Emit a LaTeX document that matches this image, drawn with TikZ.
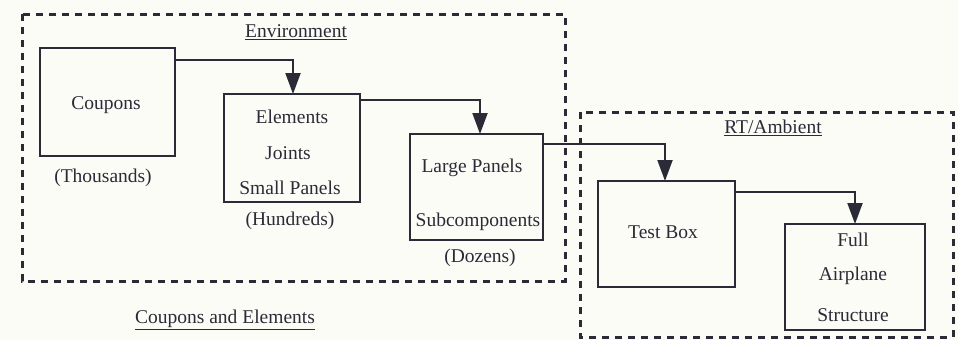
\documentclass[tikz,border=0pt]{standalone}
\usepackage{fontspec}
\setmainfont{Liberation Serif}
\usetikzlibrary{arrows.meta}
\definecolor{ink}{HTML}{2B2B38}
\definecolor{paper}{HTML}{FCFCF7}
\begin{document}
\begin{tikzpicture}[x=1pt,y=-1pt,
  every node/.style={text=ink, font=\fontsize{19.5}{22}\selectfont},
  blockbox/.style={draw=ink, line width=2.8pt},
  zone/.style={draw=ink, line width=3pt, dash pattern=on 7pt off 6pt},
  flow/.style={draw=ink, line width=2pt, -{Triangle[width=15pt,length=21pt]}},
  caption/.style={inner sep=0pt}]
  % page
  \fill[paper] (0,0) rectangle (958,340);
  \useasboundingbox (0,0) rectangle (958,340);

  % test environment zones
  \draw[zone] (22,14) rectangle (565,281);
  \draw[zone] (580,112) rectangle (953,337);
  \node[caption] (env) at (296,32) {\underline{Environment}};
  \node[caption] (rt) at (773,128) {\underline{RT/Ambient}};
  \node[caption] (ce) at (225,320) {\underline{Coupons and Elements}};

  % building blocks
  \draw[blockbox] (40,48) rectangle (175,156);
  \coordinate (cpR) at (175,60);
  \node (cp) at (106,105) {Coupons};
  \node (cpN) at (103,178) {(Thousands)};

  \draw[blockbox] (224,94) rectangle (360,202);
  \coordinate (elT) at (293,94);
  \coordinate (elR) at (360,100);
  \node (el1) at (292,117) {Elements};
  \node (el2) at (288,153) {Joints};
  \node (el3) at (290,188) {Small Panels};
  \node (elN) at (290,221) {(Hundreds)};

  \draw[blockbox] (410,134) rectangle (543,240);
  \coordinate (lpT) at (480,134);
  \coordinate (lpR) at (543,144);
  \node (lp1) at (472,168) {Large Panels};
  \node (lp2) at (478,222) {Subcomponents};
  \node (lpN) at (480,258) {(Dozens)};

  \draw[blockbox] (598,181) rectangle (735,287);
  \coordinate (tbT) at (665,181);
  \coordinate (tbR) at (735,192);
  \node (tb) at (663,232) {Test Box};

  \draw[blockbox] (785,224) rectangle (925,330);
  \coordinate (fsT) at (855,224);
  \node (fs1) at (853,240) {Full};
  \node (fs2) at (853,276) {Airplane};
  \node (fs3) at (853,315) {Structure};

  % flow between levels
  \draw[flow] (cpR) -| (elT);
  \draw[flow] (elR) -| (lpT);
  \draw[flow] (lpR) -| (tbT);
  \draw[flow] (tbR) -| (fsT);
\end{tikzpicture}
\end{document}
